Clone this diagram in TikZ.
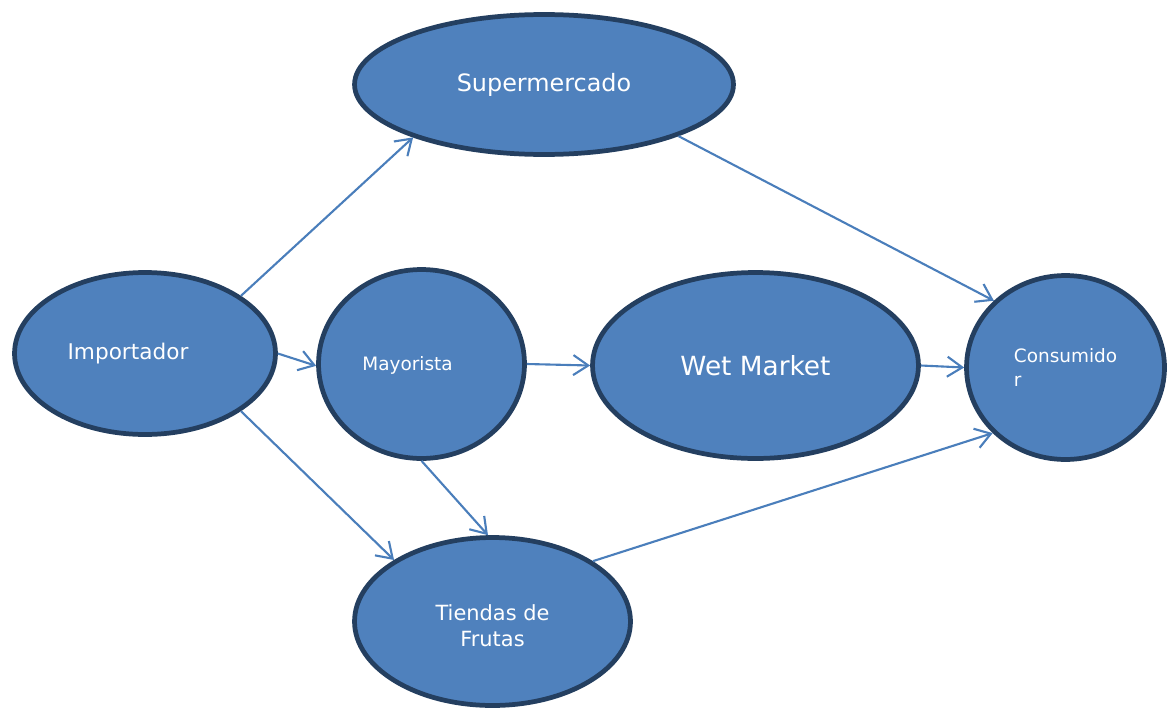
\documentclass[tikz,border=0pt]{standalone}
\usepackage{fontspec}
\setmainfont{DejaVu Sans}
\usetikzlibrary{shapes.geometric,arrows.meta}
\definecolor{fillblue}{HTML}{4F81BD}
\definecolor{edgeblue}{HTML}{243F60}
\definecolor{lineblue}{HTML}{4A7EBB}

\begin{document}
\begin{tikzpicture}[x=0.02cm,y=-0.02cm,
    blob/.style={ellipse,draw=edgeblue,fill=fillblue,line width=2.7pt,text=white,inner sep=0pt},
    flow/.style={draw=lineblue,line width=1.2pt,-{Straight Barb[length=3mm,width=4mm]}}]
  \useasboundingbox (0,0) rectangle (1169,710);
  % ellipses
  \node[blob,minimum width=7.58cm,minimum height=2.8cm,font=\fontsize{13.6}{16}\selectfont] (sup) at (544,84.5) {Supermercado};
  \node[blob,minimum width=5.22cm,minimum height=3.24cm,
    label={[text=white,xshift=-0.34cm,font=\fontsize{12.3}{14}\selectfont]center:Importador}] (imp) at (145,353.5) {};
  \node[blob,minimum width=4.12cm,minimum height=3.78cm,
    label={[text=white,xshift=-0.28cm,yshift=-0.02cm,font=\fontsize{10.5}{12}\selectfont]center:Mayorista}] (may) at (421.5,364) {};
  \node[blob,minimum width=6.52cm,minimum height=3.72cm,font=\fontsize{15}{17}\selectfont] (wet) at (755.5,365.5) {Wet Market};
  \node[blob,minimum width=3.96cm,minimum height=3.68cm,align=left,font=\fontsize{10.5}{13.6}\selectfont] (con) at (1065.5,367.5) {Consumido\\r};
  \node[blob,minimum width=5.52cm,minimum height=3.36cm,
    label={[text=white,align=center,yshift=-0.08cm,font=\fontsize{11.9}{14.7}\selectfont]center:Tiendas de\\Frutas}] (tie) at (492.5,621.5) {};
  % connectors
  \draw[flow] (imp.31) -- (sup.202);
  \draw[flow] (sup.339) -- (con.137);
  \draw[flow] (imp.0) -- (may.181);
  \draw[flow] (may.0) -- (wet.180);
  \draw[flow] (wet.0) -- (con.180);
  \draw[flow] (imp.329) -- (tie.148);
  \draw[flow] (may.270) -- (tie.93);
  \draw[flow] (tie.31) -- (con.222);
\end{tikzpicture}
\end{document}
